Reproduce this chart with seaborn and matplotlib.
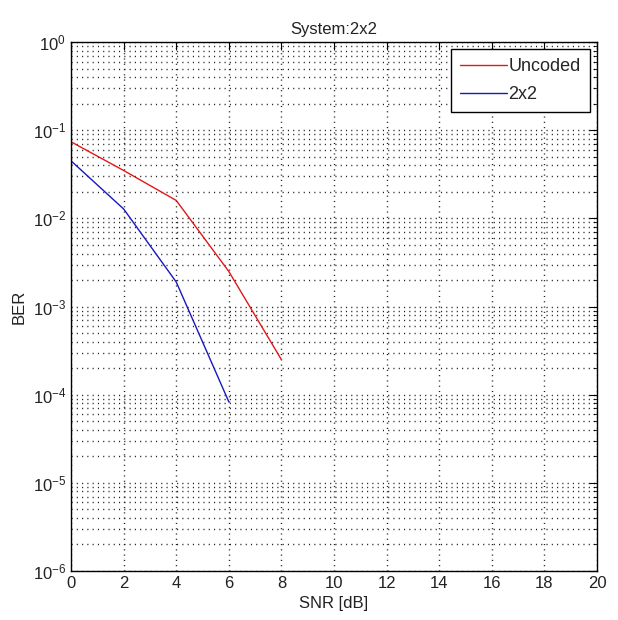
import pandas as pd
import matplotlib.pyplot as plt
import seaborn as sns
from matplotlib.ticker import LogLocator, NullFormatter, MultipleLocator

snr_uncoded = [0, 2, 4, 6, 8]
ber_uncoded = [0.074, 0.035, 0.016, 0.0025, 0.00025]
snr_2x2 = [0, 2, 4, 6]
ber_2x2 = [0.045, 0.0128, 0.0019, 0.000083]
series_names = ["Uncoded", "2x2"]
series_colors = ["#e01818", "#1818c0"]

df = pd.concat([
    pd.DataFrame({"SNR": snr_uncoded, "BER": ber_uncoded, "System": series_names[0]}),
    pd.DataFrame({"SNR": snr_2x2, "BER": ber_2x2, "System": series_names[1]}),
])

sns.set_style("white")
plt.rcParams['font.family'] = ['Liberation Sans', 'DejaVu Sans']
plt.rcParams['mathtext.default'] = 'regular'

fig = plt.figure(figsize=(6.18, 6.2), dpi=100)
ax = fig.add_axes([0.115, 0.079, 0.851, 0.853])

sns.lineplot(data=df, x="SNR", y="BER", hue="System", palette=series_colors,
             linewidth=1.0, ax=ax)

ax.set_yscale("log")
ax.set_xlim(0, 20)
ax.set_ylim(1e-6, 1)
ax.xaxis.set_major_locator(MultipleLocator(2))
ax.yaxis.set_major_locator(LogLocator(base=10, numticks=10))
ax.yaxis.set_minor_locator(LogLocator(base=10, subs=range(2, 10), numticks=20))
ax.yaxis.set_minor_formatter(NullFormatter())
ax.xaxis.get_offset_text().set_visible(False)
ax.yaxis.get_offset_text().set_visible(False)

dots = (0, (0.8, 3.0))
ax.grid(True, which="major", axis="both", linestyle=dots, color="#202020", linewidth=1.0)
ax.grid(True, which="minor", axis="y", linestyle=dots, color="#202020", linewidth=1.0)
ax.set_axisbelow(True)

ax.tick_params(which="both", direction="in", top=True, right=True, labelsize=12,
               color="black", labelcolor="#222222")
ax.tick_params(which="major", length=6)
ax.tick_params(which="minor", length=3)
for s in ax.spines.values():
    s.set_color("black")
    s.set_linewidth(1.0)

ax.set_xlabel("SNR [dB]", fontsize=12, color="#222222")
ax.set_ylabel("BER", fontsize=12, color="#222222")
ax.set_title("System:2x2", fontsize=12, color="#222222")

leg = ax.legend(loc="upper right", fontsize=13, fancybox=False, framealpha=1,
                edgecolor="black", borderaxespad=0.4, handlelength=2.6,
                handletextpad=0.1, borderpad=0.5, labelspacing=0.6)
leg.get_frame().set_linewidth(1.0)

fig.savefig("out.png", dpi=100)
